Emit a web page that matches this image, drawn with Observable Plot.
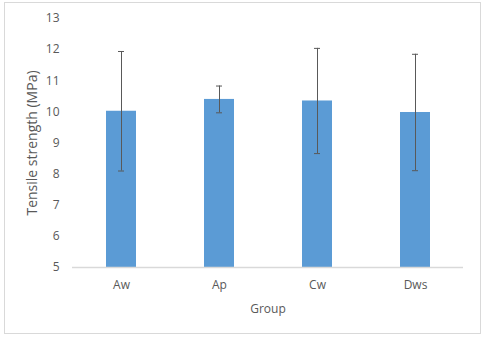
<!DOCTYPE html>
<html>
<head>
<meta charset="utf-8">
<script src="https://cdn.jsdelivr.net/npm/d3@7"></script>
<script src="https://cdn.jsdelivr.net/npm/@observablehq/plot@0.6"></script>
<style>
  body { margin: 0; background: #fff; }
  #wrap { position: relative; width: 484px; height: 337px; }
  #border { position: absolute; left: 4px; top: 2px; width: 475px; height: 330px; border: 1px solid #d9d9d9; pointer-events: none; }
</style>
</head>
<body>
<div id="wrap"><div id="border"></div></div>
<script>
const groups = ["Aw", "Ap", "Cw", "Dws"];
const means = [10.02, 10.40, 10.35, 9.98];
const errors = [1.92, 0.43, 1.69, 1.87];
const yTicks = [5, 6, 7, 8, 9, 10, 11, 12, 13];

const data = groups.map((g, i) => ({group: g, mean: means[i], err: errors[i]}));

const chart = Plot.plot({
  width: 484,
  height: 337,
  marginLeft: 72,
  marginRight: 21,
  marginTop: 18,
  marginBottom: 70,
  style: {fontFamily: "'Open Sans', sans-serif", fontSize: "11.5px", color: "#595959", background: "transparent"},
  x: {domain: groups, paddingInner: 0.694, paddingOuter: 0.34, label: "Group"},
  y: {domain: [5, 13], ticks: yTicks, label: "Tensile strength (MPa)"},
  marks: [
    Plot.axisY({ticks: yTicks, tickSize: 0, tickPadding: 13, label: null, fontSize: 12, fill: "#595959"}),
    Plot.text(["Tensile strength (MPa)"], {frameAnchor: "left", textAnchor: "middle", dx: -40, rotate: -90, fontSize: 14, fill: "#595959", style: "letter-spacing:1.1px"}),
    Plot.axisX({tickSize: 0, tickPadding: 13, label: "Group", labelAnchor: "center", labelArrow: "none", labelOffset: 45, fontSize: 12, fill: "#595959"}),
    Plot.barY(data, {x: "group", y1: 5, y2: "mean", fill: "#5b9bd5"}),
    Plot.ruleY([5], {stroke: "#d9d9d9", strokeWidth: 1.3}),
    Plot.ruleX(data, {x: "group", y1: d => d.mean - d.err, y2: d => d.mean + d.err, stroke: "#595959", strokeWidth: 1}),
    Plot.tickY(data, {x: "group", y: d => d.mean + d.err, stroke: "#595959", insetLeft: 12, insetRight: 12}),
    Plot.tickY(data, {x: "group", y: d => d.mean - d.err, stroke: "#595959", insetLeft: 12, insetRight: 12})
  ]
});
document.getElementById("wrap").appendChild(chart);
</script>
</body>
</html>
